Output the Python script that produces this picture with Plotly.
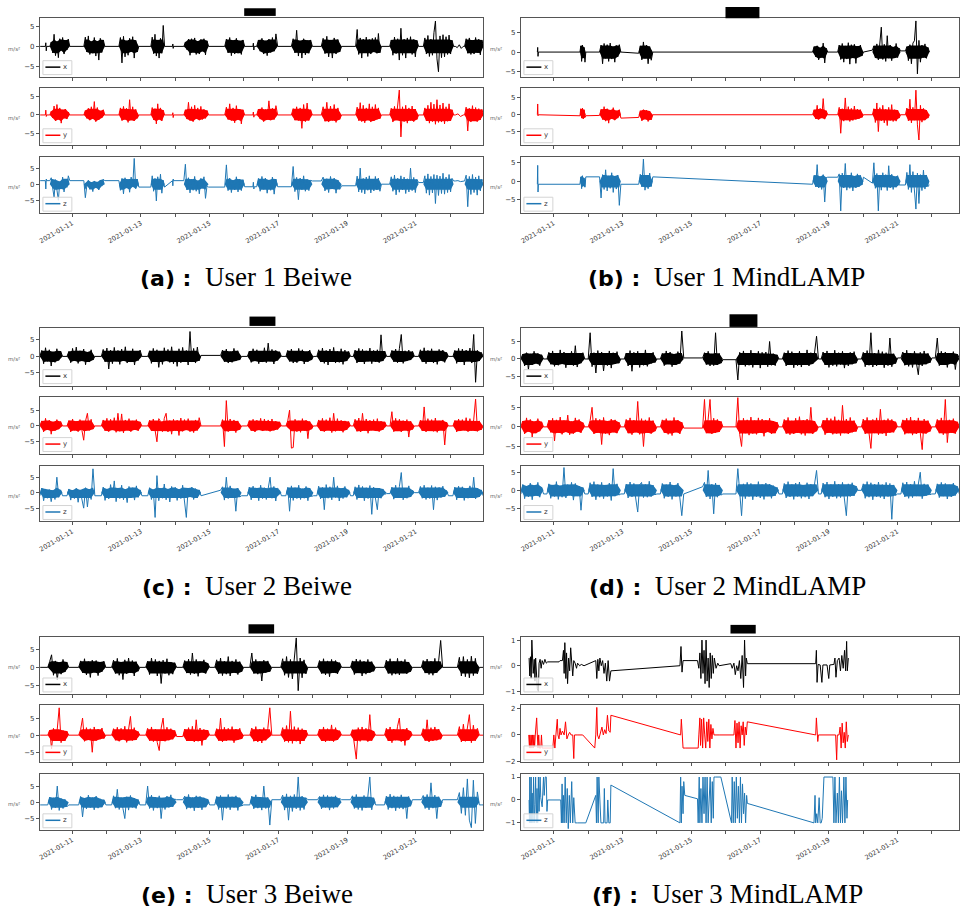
import plotly.graph_objects as go
import pandas as pd

W, H = 961, 917
BASE = pd.Timestamp("2021-01-10")   # day 0 = 2021-01-10 00:00

# ---------------- (a) User 1 Beiwe : burst segments (days) and values ----------------
A_SEG = [(0.07, 0.12), (0.22, 0.26), (0.35, 0.93), (1.34, 1.95), (2.36, 2.94), (3.29, 3.69),
         (3.92, 3.95), (4.25, 4.97), (5.44, 6.02), (6.26, 6.30), (6.37, 6.98), (7.38, 7.99),
         (8.25, 8.84), (9.25, 10.0), (10.24, 11.08), (11.22, 12.10), (12.15, 12.38), (12.42, 12.97)]
A_X = [[0, 0], [0, 0.9, -1.1, 0],
       [0, 1.1, -1.6, 3.0, -2.3, 1.2, -2.8, 1.9, -1.0, 2.2, -1.9, 1.5, -0.9, 1.8, 0],
       [0, 2.3, -1.4, 2.6, -2.0, 1.2, -1.7, 2.2, -2.4, 1.3, -3.4, 2.0, -1.5, 1.6, 0],
       [0, 2.2, -4.1, 2.5, -2.6, 1.4, -2.2, 2.0, -1.3, 2.4, -2.9, 1.5, -1.4, 0],
       [0, 2.3, -1.8, 3.0, -2.4, 1.6, -2.9, 2.0, -1.7, 5.2, 0],
       [0, 0.6, -0.5, 0],
       [0, 1.1, -0.8, 1.8, -2.2, 1.9, -1.5, 2.1, -2.0, 1.3, -1.9, 1.7, -1.2, 1.9, -2.1, 1.4, 0],
       [0, 1.8, -1.6, 2.2, -2.3, 1.5, -1.9, 2.0, -1.7, 1.4, -2.0, 1.6, 0],
       [0, 0.8, -0.9, 0],
       [0, 1.6, -1.2, 2.0, -1.9, 1.4, -2.3, 1.8, -1.5, 2.2, -1.2, 3.1, 0],
       [0, 1.9, -1.6, 4.0, -2.4, 1.4, -2.9, 1.9, -2.1, 1.5, -1.7, 1.6, 0],
       [0, 2.0, -1.8, 2.5, -2.6, 1.6, -2.9, 2.1, -1.9, 1.7, -1.4, 0],
       [0, 4.2, -2.0, 2.1, -2.9, 1.8, -1.6, 2.3, -2.5, 1.7, -1.9, 2.0, -1.4, 2.2, -1.7, 3.2, -1.6, 0],
       [0, 1.6, -2.2, 2.3, -1.8, 1.9, -3.4, 4.5, -2.2, 1.8, -2.9, 2.1, -1.6, 2.4, -2.0, 1.7, -2.6, 1.5, 0],
       [0, 2.1, -1.9, 2.7, -2.5, 1.8, -2.2, 3.4, 6.3, -3.1, -6.3, 2.6, -2.8, 2.9, -2.6, 2.4, -2.0, 2.8, -1.9, 1.5, 0],
       [0, -0.3, 0.4, -0.5, 0],
       [0, 1.9, -1.7, 2.1, -2.0, 1.5, -1.9, 2.2, -1.6, 1.8, -2.1, 1.6, 0]]
A_Y = [[0, 0], [0, 1.3, -0.4, 0],
       [0, 1.0, -0.8, 2.4, -1.6, 2.8, -1.2, 1.9, -2.2, 1.4, -0.9, 1.6, -1.1, 0.8, 0],
       [0, 1.2, -0.9, 1.8, -1.4, 2.2, -1.0, 3.6, -1.8, 2.0, -1.3, 1.1, -0.8, 1.4, 0],
       [0, 1.9, -1.5, 2.3, -1.2, 1.8, -2.0, 4.1, -1.4, 2.2, -1.6, 1.5, -0.9, 0],
       [0, 2.0, -1.3, 1.7, -2.4, 3.0, -1.2, 1.9, -1.6, 1.3, 0],
       [0, 0.6, -0.7, 0],
       [0, 1.4, -1.1, 3.4, -1.5, 2.2, -1.8, 2.6, -1.0, 1.9, -1.4, 2.3, -1.2, 1.5, -0.9, 1.2, 0],
       [0, 2.1, -1.2, 3.0, -1.5, 1.9, -2.1, 2.5, -1.3, 1.6, -2.4, 1.4, 0],
       [0, 0.8, -0.6, 0],
       [0, 1.6, -1.1, 2.0, -1.8, 1.5, -1.3, 3.8, -1.4, 1.8, -1.2, 2.5, 0],
       [0, 1.7, -1.4, 2.2, -1.5, 1.9, -3.6, 2.8, -1.8, 3.2, -1.5, 1.4, 0],
       [0, 2.2, -1.7, 3.4, -1.9, 2.4, -1.5, 2.8, -2.0, 1.9, -1.2, 0],
       [0, 2.1, -1.5, 3.3, -1.8, 2.6, -2.1, 1.9, -1.4, 3.0, -1.9, 2.2, -1.6, 2.8, -1.2, 1.9, -1.0, 0],
       [0, 1.8, -1.9, 2.3, -1.4, 2.0, 6.7, -5.9, 2.2, -1.8, 2.6, -2.2, 1.9, -1.5, 2.4, -1.8, 1.6, -1.2, 0],
       [0, 1.9, -1.6, 2.6, -2.2, 3.4, -1.8, 2.9, -2.5, 4.1, -2.0, 2.7, -1.9, 3.2, -2.4, 2.2, -1.7, 3.0, -1.6, 1.4, 0],
       [0, 0.3, -0.4, 0],
       [0, 2.1, -4.3, 1.8, -1.9, 2.5, -1.6, 2.0, -1.8, 1.7, -1.3, 1.5, 0]]
A_Z = [[1.1, 1.1], [1.1, -1.5, 1.6, 1.1],
       [1.1, 2.0, -1.2, -4.0, 1.4, -2.1, -5.0, 0.8, -1.5, 2.2, -2.4, 1.6, -1.0, 2.6, 1.1],
       [1.1, -4.2, -0.5, 1.2, -1.6, 0.6, -2.3, 1.0, -1.1, 0.7, -1.8, 1.3, -0.6, 1.5, 1.1],
       [1.1, -1.9, 1.8, -3.0, 2.0, -1.2, 1.5, -2.5, 2.2, -0.8, 8.0, -1.4, 1.6, -0.9],
       [-0.9, 2.6, -2.2, 1.8, -5.2, 2.3, -1.6, 3.1, -2.8, 1.2, -0.9],
       [1.1, -0.5, 1.6, 1.1],
       [1.1, 6.2, -1.8, 2.0, -2.7, 1.5, -1.9, 2.4, -2.2, 1.1, -3.0, 1.8, -1.3, 2.3, -4.4, -0.5, -0.9],
       [-0.9, 6.0, -2.0, 1.9, -2.6, 1.2, -1.8, 2.3, -2.4, 1.6, -2.0, 1.4, -0.8],
       [-0.8, 0.6, -1.5, -0.8],
       [-0.8, 1.8, -2.2, 2.4, -1.6, 1.9, -2.8, 1.3, -1.9, 2.2, -3.1, 1.6, -0.8],
       [-0.8, 5.5, -2.3, 2.1, -4.8, 1.9, -1.7, 2.6, -2.2, 1.5, -2.0, 1.2, 1.0],
       [1.0, 2.2, -2.1, 1.7, -2.6, 2.4, -1.5, 1.9, -2.8, 1.3, -1.6, -0.5],
       [-0.5, 2.5, -2.4, 5.0, -2.6, 1.8, -3.0, 2.2, -1.9, 2.6, -2.7, 1.6, -2.1, 2.4, -1.8, 1.9, -2.2, 0.0],
       [0.0, 2.3, -2.2, 2.8, -3.3, 1.9, -2.5, 2.6, -1.8, 2.2, -2.9, 1.7, -2.4, 5.0, -2.0, 2.1, -2.6, 1.5, 0.5],
       [0.5, 2.6, -2.8, 3.2, -3.4, 2.4, -2.7, 3.0, -6.0, 2.8, -3.5, 2.5, -2.9, 3.4, -3.1, 2.2, -2.6, 3.0, -2.4, 1.8, 1.0],
       [1.0, 1.1, 0.8, 1.0],
       [1.0, 2.8, -7.0, 2.4, -3.2, 3.0, -2.6, 2.2, -3.4, 2.6, -2.1, 1.5, 1.0]]

# ---------------- (b) User 1 MindLAMP ----------------
B_SEG = [(0.52, 0.55), (1.76, 1.93), (2.33, 2.95), (3.47, 3.88), (8.53, 8.97), (9.26, 10.01),
         (10.27, 11.09), (11.23, 11.93)]
B_X = [[0, 1.2, -1.1, 0],
       [0, 1.6, -2.4, 1.8, -1.5, 1.2, -2.6, 0],
       [0, 1.8, -3.0, 2.2, -1.6, 1.9, -2.4, 2.3, -1.8, 1.4, -2.6, 1.7, -1.2, 1.9, 0],
       [-0.3, 1.6, -2.0, 2.6, -1.6, 1.8, -3.0, 1.4, -2.1, 0],
       [0, 1.4, -1.2, 1.6, -2.0, 1.1, -1.4, 2.3, -2.8, 1.0, 0],
       [0, 1.8, -1.9, 2.2, -2.6, 1.6, -1.8, 2.4, -3.1, 1.9, -1.5, 2.0, -2.9, 1.5, -1.3, 1.8, -1.0, 0.0],
       [0.5, 1.6, -1.5, 2.1, -2.0, 1.7, 6.4, -1.9, 2.0, -2.4, 4.2, -1.6, 1.8, -2.2, 1.3, -1.5, 2.2, -1.4, 1.0, 0.3],
       [0.3, 1.4, -2.2, 1.9, -3.0, 2.3, 2.9, 8.0, -5.6, 3.0, -2.6, 1.8, -1.4, 2.1, -1.6, 1.2, 0]]
B_Y = [[0, 3.2, -0.3, 0],
       [-0.3, 1.8, -1.0, 2.0, -1.2, 1.5, -0.8, -0.3],
       [-0.2, 1.6, -1.4, 2.4, -1.9, 1.8, -2.5, 1.4, -1.2, 2.1, -1.6, 1.2, -1.0, 1.5, -1.0],
       [-0.8, 1.2, -1.8, 1.5, -1.3, 1.4, -2.0, 1.1, -1.5, 0],
       [0, 1.5, -1.2, 2.8, -1.4, 1.9, -1.0, 4.8, -1.3, 1.2, 0],
       [0, 2.2, -5.5, 1.8, -1.9, 5.0, -1.6, 2.4, -2.0, 1.9, -1.7, 2.6, -1.4, 1.7, -1.2, 1.5, -0.8, 0],
       [0, 1.8, -2.3, 3.5, -5.0, 2.1, -1.8, 2.8, -2.4, 1.6, -3.2, 2.2, -1.7, 3.0, -2.0, 1.5, -1.9, 1.4, -1.0, 0],
       [0, 2.0, -1.8, 4.6, -2.4, 2.2, -1.6, 7.3, -3.0, -7.5, 2.8, -2.2, 1.9, -1.6, 1.4, -1.0, 0]]
B_Z = [[-0.8, 4.3, -2.9, -0.8],
       [-0.8, 1.2, -2.0, 1.5, -1.3, 0.9, -1.6, 1.2],
       [1.2, -4.5, 1.8, -2.2, 3.1, -2.6, 1.5, -1.9, 2.3, -3.0, 1.4, -2.1, 1.7, -6.5, -0.8],
       [-0.8, 1.9, -1.5, 6.0, -2.4, 1.6, -2.0, 2.2, -1.4, 1.2],
       [-0.8, 1.6, -1.5, 4.5, -1.8, 1.3, -2.2, 1.8, -5.6, 1.0, 1.1],
       [1.1, 2.0, -8.0, 2.2, -1.8, 4.8, -2.4, 1.6, -1.9, 2.3, -2.6, 1.4, -1.8, 2.0, -1.5, 1.6, -1.0, 1.1],
       [-0.5, 5.0, -1.9, 2.1, -8.0, 1.7, -2.4, 2.3, -1.6, 1.8, -2.5, 4.2, -1.8, 1.9, -2.2, 1.3, -1.6, 1.5, -1.0, -1.0],
       [-1.0, 2.4, -2.2, 4.5, -3.0, 2.6, -2.0, -7.5, 2.2, -6.0, 1.8, -2.5, 3.0, -2.1, 1.7, -1.4, -1.0]]

# ---------------- (c) User 2 Beiwe ----------------
C_SEG = [(0.06, 0.72), (0.85, 1.66), (1.85, 3.03), (3.20, 4.75), (5.32, 5.93), (6.10, 7.09),
         (7.22, 8.02), (8.12, 9.10), (9.18, 10.15), (10.25, 10.96), (11.08, 11.95), (12.08, 12.96)]
C_X = [[0.0, 1.8, -2.2, 2.6, -1.5, 2.0, -2.9, 1.4, -1.8, 2.3, -1.2, 1.6, 0.0],
       [0.0, 1.5, -1.9, 2.4, -1.3, 2.8, -2.1, 1.7, -1.4, 2.2, -2.5, 1.3, -1.7, 2.0, -1.1, 0.0],
       [0.0, 2.1, -1.6, 2.5, -3.8, 1.9, -2.2, 2.7, -1.5, 1.8, -2.4, 2.2, -1.3, 2.9, -2.0, 1.5, -1.7, 2.3, -2.6, 1.6, -1.2, 1.9, 0.0],
       [0.0, 1.7, -2.1, 2.4, -1.6, 2.0, -3.3, 1.5, -2.4, 2.6, -1.4, 2.1, -1.8, 2.9, -2.2, 1.6, -3.0, 2.3, -1.9, 2.7, -1.5, 1.8, -2.6, 7.5, -1.7, 2.4, -2.0, 2.8, -1.3, 0.3],
       [0.3, 1.9, -1.6, 2.2, -2.0, 1.5, -1.8, 2.4, -1.4, 1.7, -1.1, 0.0],
       [0.0, 1.6, -1.8, 2.3, -1.4, 2.0, -2.2, 1.5, -1.7, 2.6, -1.9, 4.0, -1.5, 2.1, -2.3, 1.8, -1.2, 1.4, 0.0],
       [0.0, 1.8, -1.5, 2.2, -2.0, 1.6, -1.9, 2.4, -1.3, 2.0, -2.3, 1.5, -1.6, 1.9, -1.1, 0.0],
       [0.0, 2.0, -1.7, 2.5, -2.1, 1.8, -2.6, 2.2, -1.5, 2.7, -2.0, 1.6, -1.8, 2.3, -2.4, 1.9, -1.4, 1.5, 0.0],
       [0.0, 1.9, -2.0, 2.4, -1.6, 2.1, -2.3, 1.7, -1.5, 2.5, -2.2, 1.8, -1.6, 2.0, -1.9, 6.5, -1.4, 1.6, 0.0],
       [0.0, 1.8, -1.6, 2.2, -1.9, 2.4, 6.6, -2.1, 1.7, -1.4, 1.9, -1.1, 1.5, 0.0],
       [0.0, 2.0, -1.7, 2.6, -2.2, 1.8, -1.5, 2.3, -2.0, 1.6, -2.4, 2.1, -1.3, 1.9, -1.8, 1.2, 0.0],
       [0.0, 1.8, -2.1, 2.4, -1.7, 2.2, -2.6, 1.9, -1.5, 2.5, -2.0, 6.6, -7.8, 1.8, -1.4, 1.2, 0.0]]
C_Y = [[0.0, 1.6, -1.9, 2.4, -1.2, 1.8, -2.6, 1.3, -1.5, 2.0, -1.0, 1.4, 0.0],
       [0.0, 1.7, -1.9, 2.2, -1.4, 1.5, -1.8, 2.0, -1.2, -4.5, 1.6, 4.0, -1.4, 2.1, -1.0, 0.0],
       [0.0, 1.9, -1.5, 2.4, -1.8, 2.1, -1.3, 2.6, -2.0, 4.0, -1.7, 3.8, -2.2, 1.9, -1.4, 2.3, -1.8, 1.6, -1.2, 2.0, -1.5, 1.3, 0.0],
       [0.0, 1.8, -1.6, 2.2, -1.9, -5.0, 2.3, 1.4, -1.8, 2.4, 4.0, -1.9, 1.7, -2.6, 2.1, -1.5, 1.8, -3.0, 2.5, -1.7, 2.0, -1.3, 2.3, -1.8, 1.6, -2.1, 1.9, -1.4, 2.6, 0.0],
       [0.0, 2.0, -6.5, 8.0, -1.8, 2.2, -1.5, 1.9, -2.1, 1.6, -1.2, 0.0],
       [0.0, 1.7, -1.5, 2.1, -1.9, 1.8, -1.3, 2.4, -1.6, 2.2, -1.4, 1.9, -1.7, 2.2, -1.4, 1.5, -1.1, 1.3, 0.0],
       [0.0, 1.6, 5.0, -7.0, -6.8, 2.1, -1.8, 1.6, -2.0, 2.3, -1.5, 1.8, -4.0, 1.4, -1.0, 0.0],
       [0.0, 1.9, -1.6, 2.4, -1.8, 2.0, -1.4, 2.6, -2.1, 4.0, -1.7, 2.3, -1.5, 1.8, -2.0, 1.6, -1.2, 1.4, 0.0],
       [0.0, 2.1, -1.7, 2.5, -1.9, 4.0, -1.5, 2.2, -2.3, 1.8, -1.4, 2.0, -1.6, 2.3, -1.8, 1.5, -1.2, 1.3, 0.0],
       [0.0, 4.5, -1.8, 2.4, -1.6, 2.1, -1.9, 1.7, -1.4, 2.0, -3.5, 1.5, -1.1, 0.0],
       [0.0, 1.8, -1.6, 6.0, -1.9, 2.3, -1.5, 2.0, -1.7, 2.5, -2.0, 1.6, -1.4, 1.9, -6.0, 1.2, 0.0],
       [0.0, 1.7, -1.9, 2.2, -1.6, 2.0, -1.4, 2.6, -1.8, 2.3, -1.5, 1.9, 8.5, -1.7, 1.6, -1.2, 0.0]]
C_Z = [[-1.0, 1.5, -2.6, 1.2, -1.8, 1.0, -2.9, 0.8, -2.2, 5.0, -1.5, 0.9, -1.0],
       [-1.0, 1.2, -2.4, 0.8, -1.9, 1.4, -3.1, 0.9, -2.2, -5.0, 1.6, -4.6, 1.1, -2.2, 7.7, -1.0],
       [-1.0, 1.8, -2.5, 1.2, -2.0, 2.6, -1.6, 3.8, -2.9, 1.5, -1.9, 2.4, -2.3, 1.1, -3.2, 2.0, -1.7, 1.6, -2.4, 2.2, -1.5, 0.9, -1.0],
       [-1.0, 1.6, -2.2, 1.0, -8.0, 5.5, -2.6, 1.4, -1.8, 2.8, -2.3, 1.2, -3.0, 2.0, -1.6, 1.7, -2.5, 1.1, -1.9, 2.4, -2.8, -8.0, 1.5, -1.4, 1.8, -2.2, 1.3, -1.7, 0.9, -1.0],
       [0.8, 1.9, -2.4, 5.0, -1.9, 2.2, -1.6, 1.3, -6.0, 1.5, -1.4, -1.0],
       [-1.0, 1.8, -2.3, 2.1, -1.7, 1.5, -2.6, 2.4, -1.9, 1.6, -2.2, 1.4, 5.0, -1.8, 2.0, -2.7, 1.4, 0.8, -1.0],
       [-1.0, 1.7, -6.0, 2.2, -2.5, 1.6, -1.9, 2.4, -2.2, 1.3, -1.8, 2.0, -2.6, 1.5, -1.2, -1.0],
       [-1.0, 2.1, -2.0, 1.7, -5.5, 2.6, -1.8, 1.9, -2.3, 5.0, -1.6, 2.2, -2.7, 1.4, -1.9, 2.0, -1.5, 0.9, -1.0],
       [-1.0, 1.9, -2.2, 2.5, -1.7, 2.0, -2.6, 1.6, -1.9, 2.3, -7.0, 1.8, -2.1, -5.5, 1.5, -1.8, 1.2, -0.5, -0.3],
       [-0.3, 1.8, -2.1, 2.4, -1.6, 2.0, 6.5, -2.3, 1.5, -1.8, 2.2, -1.4, 0.8, 0.0],
       [0.0, 2.0, -1.8, 2.4, -2.2, 1.6, -1.9, 2.3, -5.5, 1.9, -2.4, 1.7, -1.6, 2.1, -1.3, 0.7, -1.0],
       [-1.0, 1.8, -2.3, 2.1, -1.6, 1.9, -2.5, 1.4, -1.8, 2.2, -1.7, 5.0, -2.0, 1.5, -1.4, 0.9, -1.0]]

# ---------------- (d) User 2 MindLAMP ----------------
D_SEG = [(0.04, 0.70), (0.80, 1.90), (2.00, 2.95), (3.05, 4.00), (4.10, 4.78), (5.33, 5.92),
         (6.30, 7.55), (7.65, 8.70), (8.78, 9.85), (9.95, 11.00), (11.10, 12.00), (12.10, 12.80)]
D_X = [[0.0, 1.4, -2.0, 1.8, -3.0, 1.5, -1.7, 2.2, -1.3, 1.6, -1.9, 1.2, 0.0],
       [0.0, 1.9, -1.5, 2.3, -2.1, 1.6, -1.8, 2.6, -1.4, 2.0, -2.5, 1.7, -1.6, 2.2, -1.9, 3.8, -2.3, 1.5, -1.2, 1.8, 0.0],
       [0.0, 7.5, -2.2, 1.8, -4.0, 2.4, -1.7, 2.0, -3.4, 1.6, -1.9, 2.3, -2.6, 1.8, -1.4, 2.1, -1.2, 0.0],
       [0.0, 1.7, -2.0, 2.4, -3.5, 1.9, -1.6, 2.2, -2.4, 1.5, -1.8, 2.6, -2.1, 1.7, -1.3, 1.9, -1.0, 0.0],
       [0.0, 1.6, -1.9, 2.3, -1.5, 2.0, -2.2, 1.4, -1.7, 2.1, -1.3, 8.0, 0.3],
       [0.3, 1.8, -1.6, 2.2, -2.0, 1.5, -1.9, 7.5, -1.7, 1.6, -1.2, -0.2],
       [-0.2, -6.0, 1.9, -1.7, 2.3, -2.1, 1.6, -1.8, 2.5, -2.4, 1.7, -1.5, 2.2, -2.6, 1.9, -1.6, 2.0, -2.2, 5.0, -1.8, 1.5, -1.9, 1.2, 0.0],
       [0.0, 1.8, -2.0, 2.4, -1.7, 2.1, -2.5, 1.6, -1.9, 2.2, -2.3, 1.5, -1.7, 2.6, -2.0, 1.8, -1.4, 2.0, 6.5, 0.0],
       [0.0, 2.0, -1.7, 2.3, -2.4, 1.6, -1.9, 2.5, -2.1, 1.8, -1.6, 2.2, -2.6, 1.7, -2.0, 1.9, -1.5, 2.1, -1.2, 0.0],
       [0.0, 1.9, -2.2, 2.4, -1.8, 7.5, -2.3, 1.7, -2.0, 2.6, -1.6, 2.1, -2.5, 1.8, -1.9, 6.0, -2.2, 1.5, -1.3, 0.3],
       [0.3, 2.0, -1.8, 2.5, -2.1, 1.7, -2.4, 2.2, -1.6, -4.5, 1.9, -2.0, 2.3, -1.5, 1.6, -1.1, 0.3],
       [0.3, 6.0, -1.9, 2.2, -1.6, 2.0, -2.4, 1.7, -1.3, 2.1, -3.0, 1.4, 0.3]]
D_Y = [[0.0, 1.5, -1.8, 2.3, -1.2, 1.9, -2.6, 1.4, -1.6, 2.1, -1.1, 1.3, 0.0],
       [0.0, 1.7, -1.4, 2.2, -3.6, 1.8, -1.5, 2.5, -1.9, 1.6, -1.3, 3.0, -2.0, 1.4, -1.7, 2.3, -1.2, 1.9, -1.5, 1.1, 0.0],
       [0.0, 1.6, 5.0, -1.8, 2.2, -1.5, 1.9, -4.5, 2.4, -1.7, 1.5, -2.1, 2.0, -1.4, 1.8, -1.6, 1.2, 0.0],
       [0.0, 1.9, -1.6, 2.3, -2.0, 1.7, -1.4, 6.5, -1.9, 2.1, -5.0, 1.8, -1.5, 2.4, -1.7, 1.6, -1.1, 0.0],
       [0.0, 1.8, -1.5, 2.1, -1.9, 1.6, -2.2, 2.4, -1.4, 1.7, -1.8, 1.2, -0.3],
       [-0.3, 7.0, -1.6, 2.0, 7.0, -1.8, 2.2, -1.5, 1.9, -1.3, 1.4, 0.0],
       [0.0, 7.5, -1.9, -5.0, 2.2, -1.6, 1.8, -2.1, 2.5, -1.7, 1.6, -1.9, 2.3, -1.5, 2.0, -2.4, 1.7, -1.3, 2.2, -1.8, 1.5, -1.6, 1.2, 0.0],
       [0.0, 1.9, -1.7, 2.4, -2.0, 1.6, -1.8, 2.2, -1.5, 2.6, -1.9, 1.7, -2.2, 2.0, -1.6, 5.0, -1.8, 1.5, -1.1, 0.0],
       [0.0, 1.7, -2.0, 2.3, -1.5, 2.1, -1.9, 2.6, -1.7, 1.8, -2.2, 5.5, -1.6, 2.0, -1.8, 2.4, -1.4, 1.6, -1.2, 0.0],
       [0.0, 2.0, -1.8, 2.4, -2.1, -5.5, 1.9, -1.6, 2.3, -2.0, 4.5, -1.7, 1.8, -2.3, 2.1, -1.5, 1.9, -1.4, 1.3, 0.0],
       [0.0, 1.8, -1.9, 2.2, -1.6, 2.5, -2.1, 1.7, -1.8, 2.3, -1.5, -5.8, 2.0, -1.7, 1.6, -1.2, 0.0],
       [0.0, 1.9, -1.6, 2.3, -2.0, 7.0, -4.0, 1.8, -1.5, 2.1, -1.7, 1.3, 0.0]]
D_Z = [[-1.0, 1.6, -2.3, 1.2, -1.8, 2.0, -2.6, 1.4, -1.5, 2.2, -1.9, 0.9, -1.0],
       [-1.0, 1.8, -2.2, 1.5, -1.7, 2.4, -2.5, 1.3, -1.9, 6.3, -2.1, 1.6, -1.4, 2.2, -2.7, 1.9, -1.6, 1.2, -5.5, 0.8, -1.0],
       [-1.0, 2.1, -1.8, 2.4, -2.6, 1.6, -1.9, 2.2, -2.3, 1.5, -1.7, 2.0, -2.8, 6.0, -1.6, 1.8, -1.3, -1.0],
       [-1.0, 1.7, -2.1, 2.3, -1.8, 1.9, -2.4, -6.0, 1.5, 2.2, -2.0, 1.6, -1.9, 2.5, -1.7, 1.4, -1.2, -1.0],
       [-1.0, 1.9, -2.2, 1.6, -1.8, 2.3, -2.5, 1.4, -1.7, 2.0, -2.1, -7.0, -1.0],
       [1.0, 2.2, -1.8, 5.5, -2.4, 1.7, -6.5, 2.0, -1.9, 1.5, -1.3, -1.0],
       [-1.0, 6.0, -2.0, -7.0, 1.8, -2.3, 2.2, -1.7, 1.9, -2.6, 1.5, -1.8, 2.4, -2.1, 1.6, -2.5, 2.0, -1.6, 1.7, -2.2, 1.3, -1.5, 0.8, -1.0],
       [-1.0, 1.9, -2.1, 2.4, -1.8, 1.6, -2.5, 2.0, -1.7, 2.3, -2.2, 1.5, -1.9, 2.1, -2.4, 1.7, -1.6, 2.0, 5.5, -1.0],
       [-1.0, 2.0, -1.9, 2.3, -2.4, 1.6, -1.8, 2.5, -2.2, 1.7, -2.0, 2.2, -2.6, -7.0, 1.8, -1.7, 2.1, -1.5, 1.2, 0.0],
       [0.0, 1.8, -2.2, 2.4, -1.9, 2.1, -2.6, 1.7, -1.8, 2.3, -2.0, 1.6, -2.4, 2.2, -1.7, 1.9, -8.0, 1.5, -1.4, -1.0],
       [-1.0, 2.1, -1.8, 2.3, -2.2, 1.7, -2.0, 2.5, -1.6, 1.9, 5.0, -2.3, 1.8, -1.5, 1.6, -1.2, -1.0],
       [-1.0, 1.8, -2.0, 2.2, -1.6, 1.9, -2.4, 1.5, -1.8, 2.0, -1.4, 1.1, -1.0]]

# ---------------- (e) User 3 Beiwe ----------------
E_SEG = [(0.07, 0.10), (0.29, 0.90), (1.19, 1.98), (2.15, 2.97), (3.14, 4.04), (4.22, 5.00),
         (5.15, 5.99), (6.17, 6.81), (7.07, 7.86), (8.14, 8.84), (9.10, 9.83), (10.09, 10.90),
         (11.16, 11.78), (12.21, 12.85), (12.92, 12.97)]
E_X = [[0, 0],
       [0.0, 1.6, 3.5, -2.2, 1.8, -3.5, 1.4, -1.9, 2.2, -1.3, 1.5, 0.0],
       [0.0, 1.8, -1.5, 2.4, -2.1, 1.6, -2.8, 2.0, -1.4, 1.9, -2.3, 1.5, -1.2, 1.7, 0.0],
       [0.0, 2.0, -1.7, 2.5, -2.2, 1.5, -3.4, 2.1, -1.8, 2.6, -1.5, 1.9, -2.4, 1.6, -1.1, 0.0],
       [0.0, 1.7, -2.0, 2.6, -1.5, 2.2, -2.4, 1.8, -4.5, 2.0, -1.7, 2.4, -2.2, 1.5, -1.9, 1.3, 0.0],
       [0.0, 1.9, -1.6, 2.3, -2.0, 4.0, -1.8, 2.2, -2.5, 1.6, -1.4, 2.1, -1.7, 1.2, 0.0],
       [0.0, 2.1, -1.8, 2.6, -2.3, 1.7, -1.9, 3.0, -2.4, 1.8, -1.5, 2.2, -2.0, 1.6, -1.2, 0.0],
       [0.0, 4.0, -1.7, 2.2, -1.9, 1.6, -3.8, 2.0, -1.5, 1.8, -1.2, 0.0],
       [0.0, 2.4, -2.2, 3.0, -2.8, 2.2, -3.2, 3.4, 8.2, -6.5, 2.6, -2.9, 2.1, -1.8, 0.0],
       [0.0, 1.9, -1.7, 2.4, -2.1, 1.8, -2.6, 2.2, -1.5, 1.9, -1.8, 1.3, 0.0],
       [0.0, 1.8, -2.0, 2.3, -1.6, 2.1, -2.4, 1.7, -1.9, 2.2, -1.5, 1.6, -1.1, 0.0],
       [0.0, 2.0, -1.7, 2.4, -2.2, 1.6, -1.9, 2.5, -2.1, 1.8, -1.6, 2.2, -1.8, 1.5, -1.2, 0.0],
       [0.0, 1.9, -1.6, 2.3, -2.0, 1.7, -2.2, 2.5, -1.5, 2.0, 7.5, 0.0],
       [0.0, 2.8, -2.4, 3.0, -2.6, 2.2, -2.9, 3.1, -2.3, 2.5, -1.8, 0.0],
       [0, 0]]
E_Y = [[0, 0],
       [0.0, 1.5, -4.0, 2.0, -1.6, 1.8, 8.0, -2.2, 1.4, -1.7, 1.2, 0.0],
       [0.0, 1.6, 5.0, -1.8, 2.2, -1.4, 1.9, -5.0, 2.4, -1.6, 1.8, -1.2, 2.1, -1.0, 0.0],
       [0.0, 1.9, -1.5, 2.3, -1.8, 2.0, -1.3, 2.6, -2.1, 1.7, 5.5, -1.6, 2.2, -1.4, 1.1, 0.0],
       [0.0, 2.0, -1.6, 2.4, -1.9, 1.7, -2.2, -4.5, 2.1, 5.0, -1.8, 2.3, -1.5, 1.9, -1.2, 1.4, -0.4],
       [-0.4, 1.8, -1.7, 2.2, -1.5, 2.6, -2.0, 4.5, -1.8, 2.1, -3.0, 1.7, -1.3, 1.5, 0.0],
       [0.0, 1.9, -1.6, 5.0, -2.0, 2.3, -1.7, 2.0, -1.5, 2.5, -2.2, 1.8, -1.4, 2.0, -1.1, 0.0],
       [0.0, 2.1, -1.8, 2.5, -2.0, 1.7, -2.3, 2.2, -1.5, 1.9, 8.0, 0.0],
       [0.0, 2.2, -1.9, 2.8, -2.1, 7.0, -2.4, 2.5, -1.8, 2.2, -2.6, 1.9, -1.7, 1.5, 0.0],
       [0.0, 1.8, -1.7, 2.4, -2.0, 1.9, -1.6, 3.0, -1.9, 2.2, -1.4, 1.3, 0.0],
       [0.0, 1.6, -2.0, -7.0, 2.2, -1.8, 2.4, -1.5, 2.0, -1.9, 6.0, -1.6, 1.2, 0.0],
       [0.0, 2.0, -1.7, 2.4, -2.2, 1.8, -1.5, 2.6, 5.0, -1.9, 1.7, -3.0, 2.1, -1.4, 1.2, 0.0],
       [0.0, 1.9, -1.6, 4.5, -2.0, 2.2, -1.7, 2.4, -1.5, 1.8, -1.2, 0.0],
       [0.0, 2.5, -2.0, 3.2, -1.8, 2.7, 6.0, -2.2, 2.9, -1.6, 2.0, 0.0],
       [0, 0]]
E_Z = [[-0.8, -0.8],
       [-0.8, 1.6, -2.2, 1.4, -1.7, 5.0, -2.5, 1.2, -1.9, 0.9, -1.4, -0.8],
       [-0.8, 1.8, -4.5, 1.3, -2.0, 2.2, -1.6, 1.5, -2.3, 1.9, -1.8, 1.1, -1.5, 0.8, -0.8],
       [-0.8, 2.0, -1.8, 4.0, -2.2, 1.5, -1.9, -5.0, 1.7, -2.4, 2.1, -1.6, 1.3, -1.9, 0.9, -0.8],
       [-0.8, 5.0, -1.9, 2.2, -2.5, 1.6, -1.8, 2.0, -5.0, 1.4, -2.2, 1.9, -1.6, 2.3, -1.4, 1.0, 0.8],
       [0.8, 1.9, -2.1, 2.4, -1.8, 1.5, -2.6, 2.0, -1.7, 1.8, -2.3, 1.4, -1.5, 1.0, -0.8],
       [-0.8, 1.8, -2.2, 2.1, -5.5, 1.6, -1.9, 2.4, -2.3, 1.7, -1.6, 2.0, -2.5, 1.4, -1.1, -0.8],
       [-0.8, 1.9, -2.0, 2.3, -1.8, 1.6, -2.4, 5.0, -1.9, 1.5, -7.0, 0.8],
       [0.8, 2.2, -2.4, 2.6, -5.5, 2.0, -2.8, 2.4, -2.0, 7.8, -2.5, 1.9, -2.2, 1.4, 0.8],
       [0.8, 1.8, -2.0, 2.3, -1.6, 2.1, -2.4, 1.7, -1.9, 2.0, -1.5, 1.2, 0.8],
       [0.8, 2.0, -1.9, 2.4, -2.2, 1.6, -2.5, 2.1, -1.7, 1.9, 7.8, -2.3, 1.4, -0.8],
       [-0.8, 1.9, -2.2, 2.5, -1.8, 2.0, -2.6, 1.7, -1.9, 2.3, -2.1, 1.6, -5.0, 1.8, -1.2, 0.8],
       [0.8, 2.1, -1.9, 2.4, -2.3, 6.0, -1.8, 2.2, -5.0, 1.7, -1.4, 0.8],
       [0.8, 3.0, -3.4, 4.5, -4.0, 7.2, -5.5, -7.8, 6.8, -6.5, 3.2, -0.8],
       [-0.8, -0.8]]

# ---------------- (f) User 3 MindLAMP : (day, value) samples ----------------
F_X = [(0.28, 0.3), (0.30, -0.4), (0.32, 0.35), (0.34, -0.5), (0.36, 1.0), (0.38, 0.2), (0.40, -0.3),
       (0.43, 0.25), (0.45, -0.6), (0.47, 0.3), (0.50, -0.2), (0.52, -0.9), (0.55, -1.0), (0.57, 0.1),
       (0.60, 0.25), (0.63, -0.1), (0.66, 0.2), (0.70, 0.05), (0.74, 0.25), (0.78, 0.1), (0.82, 0.15),
       (0.91, 0.15), (1.15, 0.15), (1.18, 0.2), (1.25, 0.2), (1.28, 0.6), (1.30, -0.3), (1.32, 0.9),
       (1.35, -0.5), (1.37, 0.5), (1.40, -0.7), (1.43, 0.3), (1.46, -0.2), (1.49, 0.7), (1.52, 0.0),
       (1.55, -0.4), (1.58, 0.2), (1.62, 0.1), (1.66, -0.1), (1.69, 0.1), (1.75, 0.0), (1.80, 0.05),
       (1.88, 0.0), (2.22, 0.2), (2.25, -0.5), (2.28, 0.25), (2.31, -0.2), (2.34, 0.3), (2.38, 0.0),
       (2.42, 0.2), (2.46, -0.3), (2.50, 0.1), (2.54, -0.6), (2.58, 0.2), (2.62, -0.6), (2.66, -0.2),
       (4.67, 0.0), (4.70, 0.75), (4.73, -0.25), (4.76, 0.2), (5.18, 0.2), (5.22, -0.1), (5.25, 0.5),
       (5.28, -0.5), (5.31, 1.0), (5.34, -0.3), (5.37, 0.6), (5.40, -0.7), (5.43, 1.0), (5.46, -0.6),
       (5.49, 0.3), (5.52, -0.85), (5.55, 0.5), (5.58, -0.5), (5.61, 0.4), (5.64, -0.3), (5.67, 0.3),
       (5.72, -0.1), (5.77, 0.1), (5.81, 0.0), (6.15, 0.08), (6.19, -0.1), (6.24, 0.1), (6.28, -0.35),
       (6.32, 0.0), (6.36, -0.2), (6.40, 0.2), (6.44, -0.5), (6.48, 0.4), (6.52, -0.85), (6.55, 1.0),
       (6.58, -0.4), (6.60, 0.3), (6.63, 0.08), (8.62, 0.08), (8.64, 0.6), (8.66, -0.65), (8.69, 0.05),
       (8.75, 0.03), (8.80, -0.65), (8.83, 0.03), (8.95, 0.03), (9.00, -0.5), (9.03, 0.03), (9.15, 0.05),
       (9.18, 0.3), (9.21, -0.45), (9.25, 0.2), (9.30, 0.3), (9.34, -0.2), (9.38, 0.4), (9.42, -0.1),
       (9.46, 0.6), (9.49, -0.2), (9.52, 0.95), (9.54, -0.2), (9.57, 0.3)]
F_Y = [(0.27, 0.0), (0.29, -1.0), (0.30, 0.0), (0.32, -1.0), (0.34, 0.0), (0.36, -1.0), (0.38, 0.0),
       (0.40, -1.0), (0.42, 0.0), (0.44, -0.9), (0.46, 0.0), (0.50, 1.3), (0.52, 0.0), (0.54, -1.0),
       (0.56, 0.0), (0.58, -1.0), (0.62, -1.0), (0.64, 0.0), (0.66, -1.0), (0.97, -1.0), (1.00, 0.0),
       (1.03, -1.0), (1.06, 0.0), (1.10, 1.2), (1.12, 0.0), (1.15, -0.3), (1.18, 0.5), (1.21, 0.0),
       (1.25, 0.3), (1.30, 0.0), (1.34, 1.0), (1.38, -0.3), (1.42, 0.0), (1.46, 0.2), (1.50, 0.0),
       (1.55, 0.0), (1.58, -1.8), (1.60, 0.0), (1.70, 0.0), (1.84, 0.0), (2.19, -1.0), (2.22, 0.0),
       (2.25, 2.1), (2.27, 0.0), (2.31, -0.3), (2.35, 0.2), (2.40, 0.6), (2.44, 0.0), (2.48, 0.4),
       (2.52, 0.1), (2.56, 1.5), (2.60, 0.3), (2.64, 0.2), (2.66, 1.5), (4.69, 0.0), (4.71, 1.2),
       (4.73, 0.0), (4.76, -1.0), (4.84, -1.0), (5.20, -1.0), (5.22, 0.0), (5.25, 1.3), (5.27, -0.8),
       (5.30, 1.2), (5.33, -1.0), (5.36, 1.3), (5.39, 0.0), (5.42, -1.0), (5.45, 1.0), (5.48, -0.5),
       (5.51, 1.2), (5.54, -1.0), (5.57, 0.8), (5.60, -0.3), (5.63, 0.5), (5.66, 0.0), (5.81, 0.0),
       (6.24, 0.0), (6.27, 1.1), (6.30, -1.0), (6.33, 0.9), (6.36, -0.6), (6.39, 1.0), (6.42, -1.0),
       (6.45, 0.7), (6.48, 0.0), (6.51, 1.0), (6.54, -0.8), (6.57, 0.6), (6.60, 0.0), (6.63, 1.0),
       (8.62, 0.0), (8.64, 1.3), (8.66, 0.0), (8.68, -0.5), (8.70, 0.0), (9.20, 0.0), (9.23, -1.9),
       (9.25, 0.0), (9.30, 0.0), (9.33, 0.6), (9.36, -1.0), (9.39, 0.9), (9.42, -0.6), (9.45, 0.2),
       (9.48, -1.0), (9.51, 1.0), (9.54, -0.5), (9.57, 0.0)]
F_Z = [(0.28, 0.0), (0.29, -1.0), (0.30, 1.0), (0.32, -1.0), (0.34, 1.0), (0.35, -1.0), (0.37, 0.3),
       (0.39, -1.0), (0.41, 1.0), (0.43, -1.0), (0.45, -0.2), (0.47, 1.0), (0.49, -1.0), (0.51, 0.5),
       (0.53, -1.0), (0.55, 1.0), (0.57, -0.5), (0.60, 1.0), (0.62, 0.1), (0.66, -0.3), (0.70, 1.0),
       (0.72, 0.2), (0.75, 1.0), (0.78, 1.0), (0.80, -0.5), (0.82, 0.0), (1.20, 0.0), (1.22, -1.0),
       (1.24, 0.7), (1.26, -1.0), (1.28, 0.2), (1.30, -1.0), (1.33, 1.0), (1.36, -1.0), (1.39, 0.5),
       (1.42, -1.25), (1.45, 0.2), (1.48, -1.0), (1.52, 0.8), (1.55, -1.0), (1.58, 0.1), (1.62, -1.0),
       (1.69, -1.0), (1.93, -1.0), (2.22, 0.2), (2.24, -1.0), (2.26, 1.0), (2.29, -1.0), (2.31, 1.0),
       (2.34, -0.5), (2.37, -1.0), (2.45, -1.0), (2.47, 0.5), (2.49, -1.0), (2.55, -1.0), (2.57, 0.0),
       (2.60, -1.0), (2.64, -1.0), (2.66, 0.65), (4.67, -1.0), (4.69, 1.0), (4.71, -1.0), (4.73, 0.6),
       (4.76, -0.6), (4.78, 0.8), (4.81, 0.2), (5.18, 0.05), (5.20, -1.0), (5.23, 1.0), (5.25, -1.0),
       (5.28, 0.5), (5.31, -1.0), (5.34, 1.0), (5.37, -0.6), (5.40, 1.0), (5.43, -1.0), (5.46, 1.0),
       (5.49, -1.0), (5.52, 0.3), (5.55, 1.0), (5.58, -1.0), (5.61, 0.8), (5.64, -0.8), (5.66, 1.0),
       (5.70, 1.0), (5.86, 1.0), (6.17, -1.0), (6.19, 1.0), (6.22, -1.0), (6.25, 0.8), (6.28, -1.0),
       (6.31, 1.0), (6.34, -0.8), (6.37, 0.6), (6.40, -1.0), (6.43, 1.0), (6.46, -1.0), (6.49, 0.7),
       (6.52, -0.6), (6.55, 0.3), (6.58, -1.0), (6.61, 0.2), (6.63, -0.15), (8.57, -1.0), (8.60, 0.2),
       (8.62, -1.0), (8.65, -0.6), (8.68, -1.0), (8.72, 0.1), (8.75, -1.0), (8.78, -1.0), (8.81, -0.8),
       (8.86, 1.0), (9.12, 1.0), (9.15, -1.0), (9.18, 1.0), (9.21, -1.0), (9.25, 0.3), (9.28, -1.0),
       (9.31, 1.0), (9.34, -1.0), (9.37, 0.4), (9.40, -1.0), (9.44, 1.0), (9.47, -1.0), (9.50, 1.0),
       (9.53, -0.8), (9.55, 0.0)]

CAPTIONS = [("(a) :", "User 1 Beiwe"), ("(b) :", "User 1 MindLAMP"), ("(c) :", "User 2 Beiwe"),
            ("(d) :", "User 2 MindLAMP"), ("(e) :", "User 3 Beiwe"), ("(f) :", "User 3 MindLAMP")]
SERIES_NAMES = ["x", "y", "z"]
SERIES_COLORS = ["#000000", "#ff0000", "#1f77b4"]
TICK_DAYS = list(range(1, 14))  # 2021-01-11 .. 2021-01-23
CORE = 1.7   # half-height of the dense (shaded) core of each noise burst


def seg_times(a, b, n):
    return [a + (b - a) * i / (n - 1) if n > 1 else a for i in range(n)]


def expand(segs, vals):
    t, v = [], []
    for (a, b), vs in zip(segs, vals):
        t += seg_times(a, b, len(vs))
        v += list(vs)
    return t, v


def core_band(segs, vals):
    """Shaded core of each burst: band between its upward and downward swings, capped at CORE."""
    X, Y = [], []
    for (a, b), vs in zip(segs, vals):
        if len(vs) < 6:
            continue
        ts = seg_times(a, b, len(vs))
        inner = list(zip(ts[1:-1], vs[1:-1]))
        up = [(ts[0], 0.0)] + [(t, min(v, CORE)) for t, v in inner if v >= 0] + [(ts[-1], 0.0)]
        lo = [(t, max(v, -CORE)) for t, v in inner if v < 0]
        poly = up + lo[::-1]
        X += [p[0] for p in poly] + [None]
        Y += [p[1] for p in poly] + [None]
    return X, Y


def pairs(p):
    return [a for a, _ in p], [b for _, b in p]


def dates(days):
    return [None if d is None else (BASE + pd.Timedelta(days=d)).strftime("%Y-%m-%d %H:%M:%S")
            for d in days]


def px(x):
    return x / W


def py(y):
    return 1 - y / H


def fmt(v):
    return ("\u2212" + str(abs(v))) if v < 0 else str(v)


# layout geometry (pixels)
COLS = [(38.0, 482.5, (0.062, 12.97), 12.5), (520.0, 959.0, (0.042, 12.79), 495.0)]
ROWS = [[(17.3, 76.0), (87.3, 144.5), (156.7, 213.3)],
        [(329.0, 386.7), (398.3, 455.0), (467.3, 523.3)],
        [(639.0, 696.7), (708.3, 765.0), (777.3, 833.3)]]
BARS = [(242.7, 7.3, 274.3, 15.0), (725.0, 6.0, 759.0, 17.3), (248.0, 317.3, 274.0, 326.7),
        (729.0, 315.0, 757.0, 327.7), (247.0, 626.7, 272.7, 636.0), (730.0, 627.3, 755.3, 636.0)]
CAP_POS = [(245, 278), (726, 278), (246, 588), (727, 588), (246, 898), (727, 898)]

PANELS = [
    (0, 0, [(A_SEG, A_X), (A_SEG, A_Y), (A_SEG, A_Z)],
     [[-7.5, 7.0], [-8.0, 7.3], [-9.0, 8.5]], [[-5, 0, 5]] * 3),
    (0, 1, [(B_SEG, B_X), (B_SEG, B_Y), (B_SEG, B_Z)],
     [[-6.3, 8.7], [-8.9, 8.0], [-8.6, 6.6]], [[-5, 0, 5]] * 3),
    (1, 0, [(C_SEG, C_X), (C_SEG, C_Y), (C_SEG, C_Z)],
     [[-8.8, 8.5], [-8.7, 9.1], [-9.3, 8.7]], [[-5, 0, 5]] * 3),
    (1, 1, [(D_SEG, D_X), (D_SEG, D_Y), (D_SEG, D_Z)],
     [[-7.6, 8.8], [-6.8, 7.6], [-8.6, 6.8]], [[-5, 0, 5]] * 3),
    (2, 0, [(E_SEG, E_X), (E_SEG, E_Y), (E_SEG, E_Z)],
     [[-7.4, 8.6], [-7.8, 8.7], [-8.45, 8.7]], [[-5, 0, 5]] * 3),
    (2, 1, [F_X, F_Y, F_Z],
     [[-1.1, 1.14], [-2.05, 2.25], [-1.3, 1.13]], [[-1, 0, 1], [-2, 0, 2], [-1, 0, 1]]),
]

fig = go.Figure()
layout = dict(width=W, height=H, margin=dict(l=0, r=0, t=0, b=0), showlegend=False,
              paper_bgcolor="white", plot_bgcolor="white", shapes=[], annotations=[])
tickvals = dates(TICK_DAYS)
ticktext = [(BASE + pd.Timedelta(days=d)).strftime("%Y-%m-%d") if (d % 2 == 1) else "" for d in TICK_DAYS]
AX_COLOR = "#555555"
k = 0
for pi, (row, col, series, yranges, yticks) in enumerate(PANELS):
    L, R, xr, ylab_x = COLS[col]
    for si in range(3):
        k += 1
        T, B = ROWS[row][si]
        color = SERIES_COLORS[si]
        if isinstance(series[si], tuple):
            segs, vals = series[si]
            t, v = expand(segs, vals)
            ex, ey = core_band(segs, vals)
            fig.add_trace(go.Scatter(x=dates(ex), y=ey, mode="lines", fill="toself", fillcolor=color,
                                     xaxis=f"x{k}", yaxis=f"y{k}", line=dict(width=0, color=color),
                                     hoverinfo="skip", connectgaps=False))
        else:
            t, v = pairs(series[si])
        fig.add_trace(go.Scatter(x=dates(t), y=v, mode="lines", xaxis=f"x{k}", yaxis=f"y{k}",
                                 line=dict(color=color, width=1), hoverinfo="skip"))
        layout[f"xaxis{k}"] = dict(domain=[px(L), px(R)], anchor=f"y{k}", type="date",
                                   range=dates(list(xr)), tickmode="array", tickvals=tickvals,
                                   ticktext=ticktext, ticks="outside", ticklen=3, tickcolor=AX_COLOR,
                                   showline=True, mirror=True, linecolor=AX_COLOR, linewidth=1,
                                   showgrid=False, zeroline=False, tickangle=-30,
                                   showticklabels=(si == 2),
                                   tickfont=dict(family="DejaVu Sans", size=6.5, color="#333333"))
        layout[f"yaxis{k}"] = dict(domain=[py(B), py(T)], anchor=f"x{k}", range=yranges[si],
                                   tickmode="array", tickvals=yticks[si],
                                   ticktext=[fmt(q) for q in yticks[si]], ticks="outside",
                                   ticklen=3, tickcolor=AX_COLOR, showline=True, mirror=True,
                                   linecolor=AX_COLOR, linewidth=1, showgrid=False, zeroline=False,
                                   tickfont=dict(family="DejaVu Sans", size=7, color="#333333"))
        # legend box
        layout["shapes"].append(dict(type="rect", xref="paper", yref="paper",
                                     x0=px(L + 3), x1=px(L + 32), y0=py(B - 2), y1=py(B - 16),
                                     line=dict(color="#d4d4d4", width=1), fillcolor="rgba(255,255,255,0.8)"))
        layout["shapes"].append(dict(type="line", xref="paper", yref="paper",
                                     x0=px(L + 5.5), x1=px(L + 20.5), y0=py(B - 9.5), y1=py(B - 9.5),
                                     line=dict(color=color, width=1.5)))
        layout["annotations"].append(dict(xref="paper", yref="paper", x=px(L + 25.5), y=py(B - 9.5),
                                          text=SERIES_NAMES[si], showarrow=False, xanchor="center",
                                          yanchor="middle",
                                          font=dict(family="DejaVu Sans", size=7, color="#333333")))
        layout["annotations"].append(dict(xref="paper", yref="paper", x=px(ylab_x), y=py((T + B) / 2 + 2),
                                          text="m/s\u00b2", showarrow=False, xanchor="center",
                                          yanchor="middle",
                                          font=dict(family="DejaVu Sans", size=5.5, color="#666666")))
    bx0, by0, bx1, by1 = BARS[pi]
    layout["shapes"].append(dict(type="rect", xref="paper", yref="paper", x0=px(bx0), x1=px(bx1),
                                 y0=py(by1), y1=py(by0), line=dict(width=0), fillcolor="black"))
    cx, cy = CAP_POS[pi]
    lab, desc = CAPTIONS[pi]
    layout["annotations"].append(dict(
        xref="paper", yref="paper", x=px(cx), y=py(cy), showarrow=False, xanchor="center",
        yanchor="middle",
        text=f'<span style="font-family:DejaVu Sans;font-weight:bold;font-size:22px">{lab}</span>'
             f'\u2002{desc}',
        font=dict(family="Liberation Serif", size=27, color="black")))

fig.update_layout(**layout)
fig.write_html("out.html", config={"displayModeBar": False},
               post_script="document.body.style.margin='0';")
